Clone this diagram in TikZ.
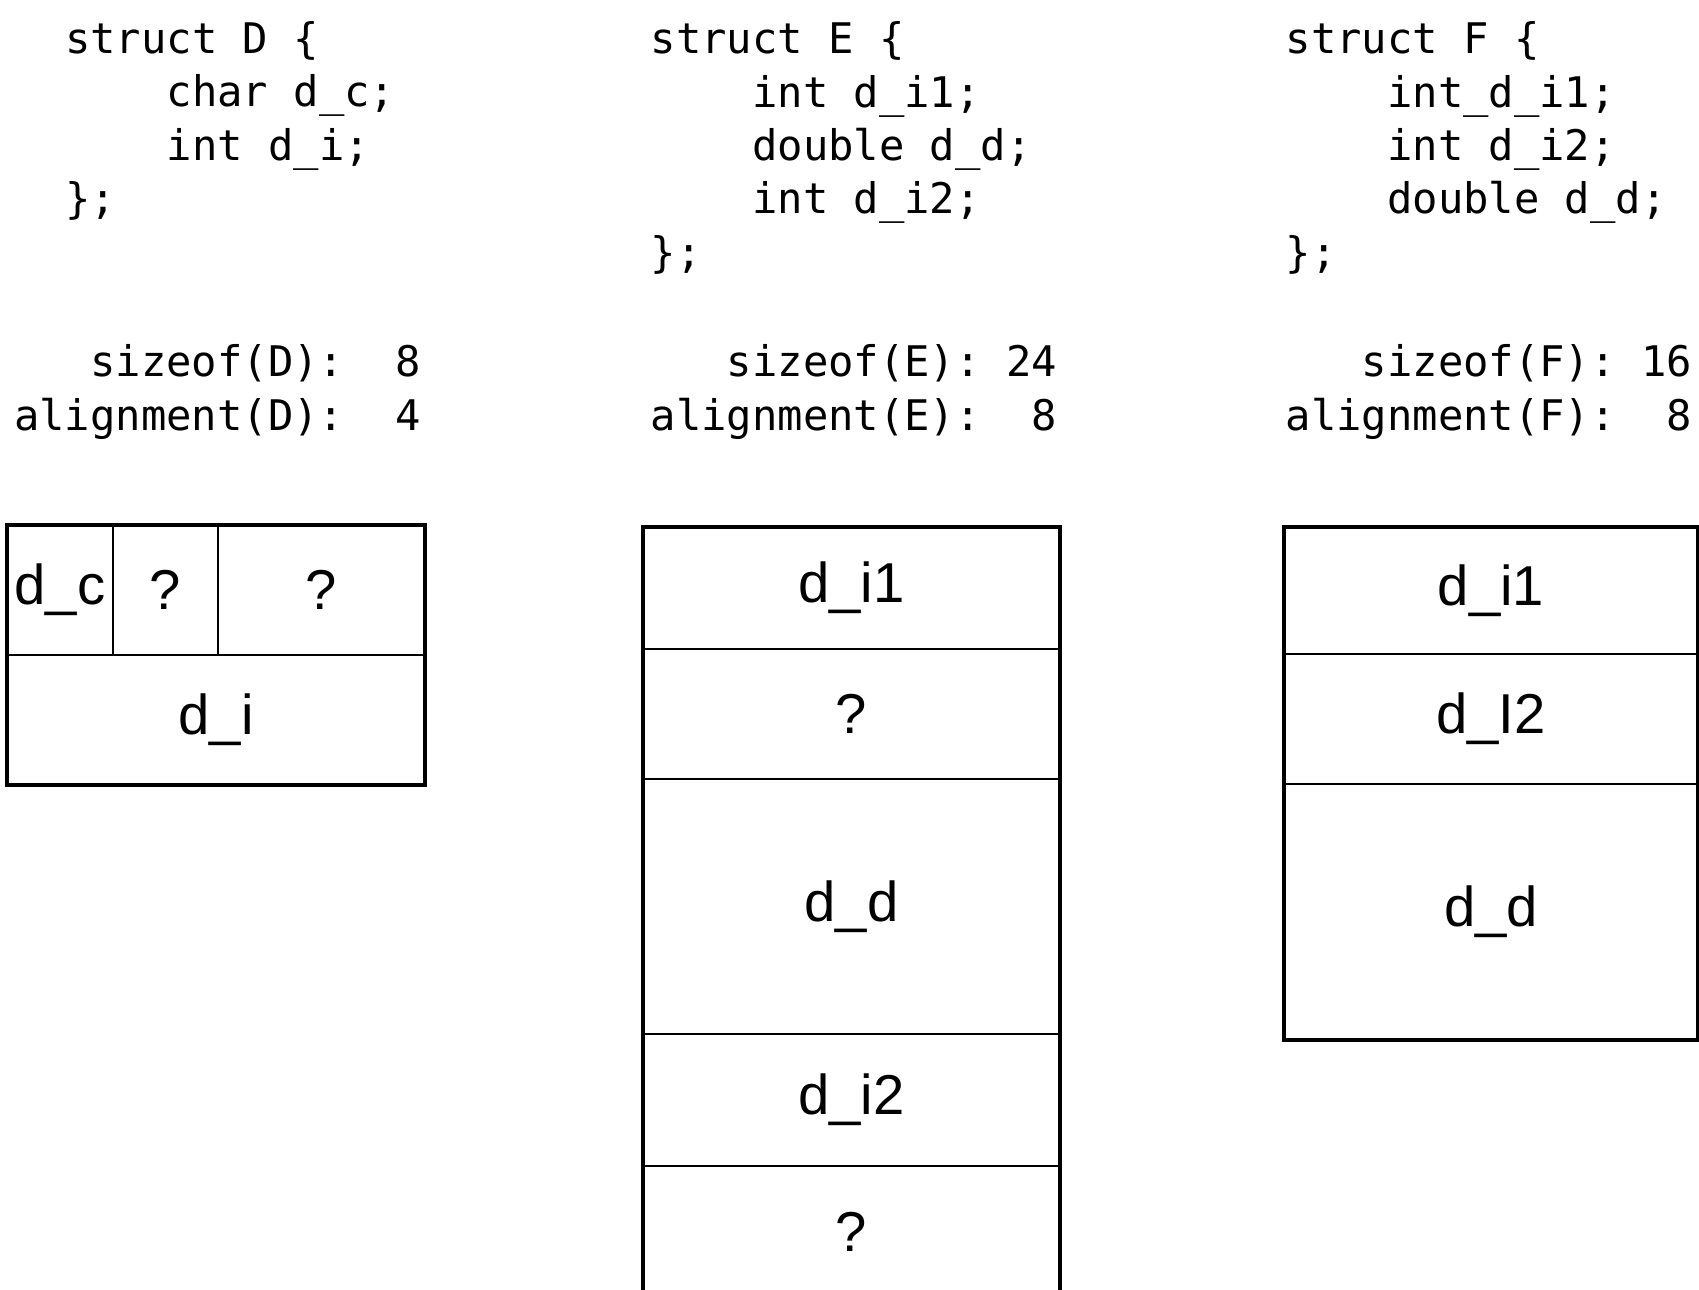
\documentclass[tikz,border=0pt]{standalone}
\usepackage{fontspec}
\setmainfont{Liberation Sans}
\setmonofont{DejaVu Sans Mono}
\usetikzlibrary{positioning}

\newcommand{\codeindent}{\hphantom{xxxx}}
\newcommand{\codegap}[1]{\hphantom{#1}}

\begin{document}
\begin{tikzpicture}[
      code/.style={font=\ttfamily\fontsize{12}{15.17}\selectfont, align=left, inner sep=0pt, anchor=base west},
      cell/.style 2 args={draw, line width=0.7pt, inner sep=0pt, outer sep=0pt, minimum width=#1cm, minimum height=#2cm, font=\fontsize{16}{19}\selectfont},
      frame/.style={draw, line width=1.4pt}
  ]
    \useasboundingbox (0,0) rectangle (16.99,-12.89);
    \clip (0,0) rectangle (16.99,-12.89);

    % declarations (base = last line)
    \node[code] (codeD) at (0.645,-2.135) {struct D \{\\\codeindent char d\_c;\\\codeindent int d\_i;\\\};};
    \node[code] (codeE) at (6.50,-2.672) {struct E \{\\\codeindent int d\_i1;\\\codeindent double d\_d;\\\codeindent int d\_i2;\\\};};
    \node[code] (codeF) at (12.85,-2.672) {struct F \{\\\codeindent int\_d\_i1;\\\codeindent int d\_i2;\\\codeindent double d\_d;\\\};};

    % sizes
    \node[code] (sizeD) at (0.135,-4.30) {\codegap{xxx}sizeof(D):\codegap{xx}8\\alignment(D):\codegap{xx}4};
    \node[code] (sizeE) at (6.50,-4.30) {\codegap{xxx}sizeof(E):\codegap{x}24\\alignment(E):\codegap{xx}8};
    \node[code] (sizeF) at (12.85,-4.30) {\codegap{xxx}sizeof(F):\codegap{x}16\\alignment(F):\codegap{xx}8};

    % layout of D
    \node[cell={1.06}{1.30}, anchor=north west] (Dc) at (0.07,-5.25) {d\_c};
    \node[cell={1.05}{1.30}, right=0pt of Dc] (Dpad1) {?};
    \node[cell={2.07}{1.30}, right=0pt of Dpad1] (Dpad2) {?};
    \node[cell={4.18}{1.30}, anchor=north west] (Di) at (Dc.south west) {d\_i};
    \draw[frame] (Dc.north west) rectangle (Di.south east);

    % layout of E
    \node[cell={4.17}{1.22}, anchor=north west] (Ei1) at (6.43,-5.27) {d\_i1};
    \node[cell={4.17}{1.30}, below=0pt of Ei1] (Epad1) {?};
    \node[cell={4.17}{2.55}, below=0pt of Epad1] (Ed) {d\_d};
    \node[cell={4.17}{1.32}, below=0pt of Ed] (Ei2) {d\_i2};
    \node[cell={4.17}{1.32}, below=0pt of Ei2] (Epad2) {?};
    \draw[frame] (Ei1.north west) rectangle (Epad2.south east);

    % layout of F
    \node[cell={4.14}{1.27}, anchor=north west] (Fi1) at (12.84,-5.27) {d\_i1};
    \node[cell={4.14}{1.30}, below=0pt of Fi1] (Fi2) {d\_I2};
    \node[cell={4.14}{2.56}, below=0pt of Fi2] (Fd) {d\_d};
    \draw[frame] (Fi1.north west) rectangle (Fd.south east);
\end{tikzpicture}
\end{document}
